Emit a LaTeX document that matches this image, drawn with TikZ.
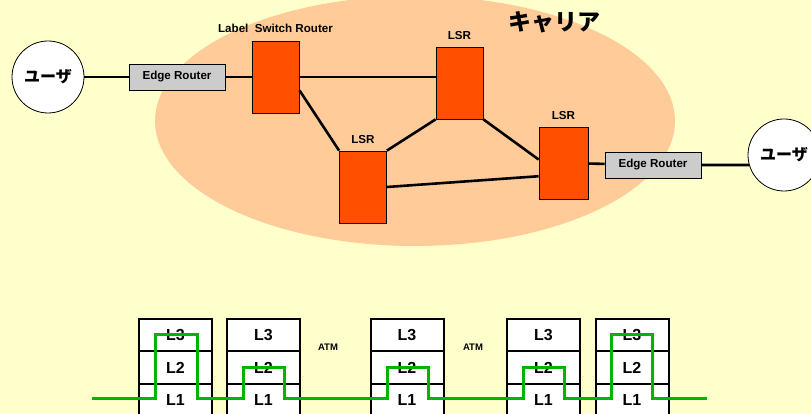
\documentclass[tikz,border=0pt]{standalone}
\usepackage{fontspec}
\setmainfont{Liberation Sans}
\newfontfamily\jpfont{Noto Sans CJK JP}
\usetikzlibrary{positioning}
\definecolor{hgelb}{HTML}{FFFFCC}
\definecolor{traeger}{HTML}{FFCC99}
\definecolor{lsrrot}{HTML}{FF5000}
\definecolor{ergrau}{HTML}{CCCCCC}
\definecolor{pfad}{HTML}{00B400}
\tikzset{
  lsr/.style={draw,fill=lsrrot,line width=0.8pt,minimum width=47pt,minimum height=72pt,inner sep=0pt},
  erouter/.style={draw,fill=ergrau,line width=0.8pt,minimum width=96pt,minimum height=26pt,inner sep=0pt,font=\bfseries\fontsize{11.6}{13}\selectfont},
  nutzer/.style={circle,draw,fill=white,line width=0.8pt,minimum size=72pt,inner sep=0pt,font=\jpfont\bfseries\fontsize{16}{18}\selectfont},
  lbl/.style={inner sep=0pt,font=\bfseries\fontsize{11.6}{13}\selectfont},
  verb/.style={line width=2.6pt},
  zelle/.style={draw,fill=white,line width=2pt,minimum width=73pt,minimum height=32.5pt,inner sep=0pt,outer sep=0pt,font=\bfseries\fontsize{16}{18}\selectfont},
  atm/.style={inner sep=0pt,font=\bfseries\fontsize{9.5}{11}\selectfont},
  gruen/.style={pfad,line width=3pt},
}
\begin{document}
\begin{tikzpicture}[x=1pt,y=1pt]
  \useasboundingbox (0,0) rectangle (811,414);
  \clip (0,0) rectangle (811,414);
  \fill[hgelb] (0,0) rectangle (811,414);
  \fill[traeger] (415,293) ellipse [x radius=260, y radius=125];
  \node[lbl,font=\jpfont\bfseries\fontsize{23}{25}\selectfont] (carrier) at (554,392) {キャリア};
  % Netz oben
  \node[nutzer] (userl) at (48,337) {ユーザ};
  \node[erouter] (edgel) at (177,337) {Edge Router};
  \node[lsr] (lsra) at (275.5,337) {};
  \node[lsr] (lsrb) at (363,227) {};
  \node[lsr] (lsrc) at (459.5,331) {};
  \node[lsr,minimum width=49pt] (lsrd) at (563.5,251) {};
  \node[erouter] (edger) at (653,249) {Edge Router};
  \node[nutzer] (userr) at (784,259) {ユーザ};
  \node[lbl,above=8pt of lsra] (lsratxt) {Label\ \ Switch Router};
  \node[lbl,above=7pt of lsrb] (lsrbtxt) {LSR};
  \node[lbl,above=7pt of lsrc] (lsrctxt) {LSR};
  \node[lbl,above=7pt of lsrd] (lsrdtxt) {LSR};
  \draw[verb] (userl) -- (edgel);
  \draw[verb] (edgel) -- (lsra);
  \draw[verb] (lsra) -- (lsra -| lsrc.west);
  \draw[verb] (lsra.-29) -- (lsrb.north west);
  \draw[verb] (lsrb.north east) -- (lsrc.south west);
  \draw[verb] (lsrc.south east) -- (lsrd.172);
  \draw[verb] (lsrb.east) -- (lsrd.208);
  \draw[verb] (lsrd) -- (edger);
  \draw[verb] (edger) -- (userr.196);
  % Schichten unten
  \foreach \nm/\x in {sa/175.5,sb/263.5,sc/407,sd/543.5,se/632}{
    \node[zelle] (\nm1) at (\x,14) {L1};
    \node[zelle,above=0pt of \nm1] (\nm2) {L2};
    \node[zelle,above=0pt of \nm2] (\nm3) {L3};
  }
  \node[atm] (atma) at (328,67) {ATM};
  \node[atm] (atmb) at (473,67) {ATM};
  \draw[gruen] (92,15) -| (155,79) -| (197,15) -| (243,46) -| (284,15) -| (387,46) -| (428,15)
    -| (523,46) -| (564,15) -| (611,79) -| (652,15) -- (707,15);
\end{tikzpicture}
\end{document}
